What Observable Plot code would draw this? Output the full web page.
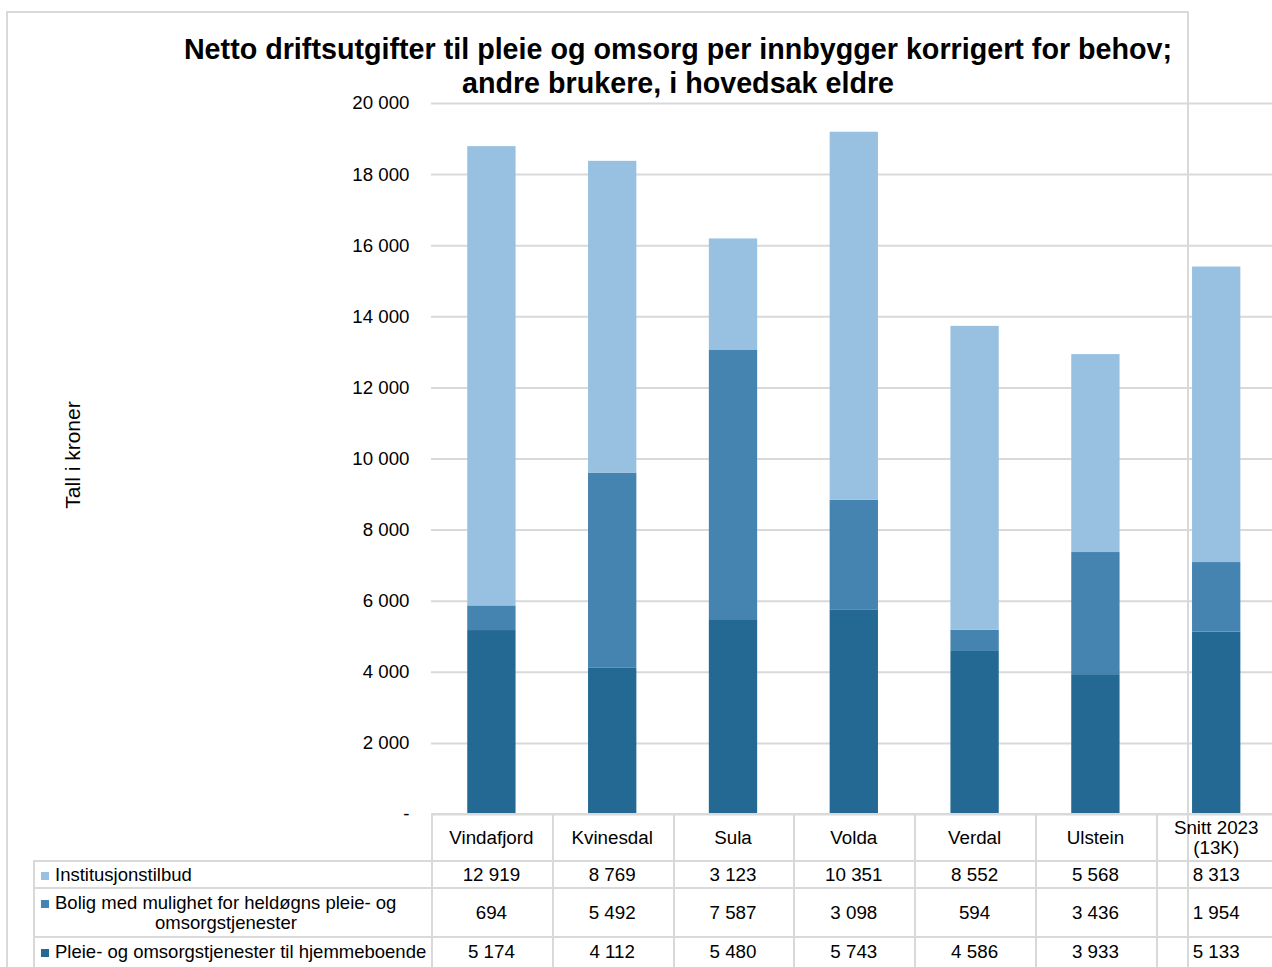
<!DOCTYPE html>
<html><head><meta charset="utf-8">
<script src="https://cdn.jsdelivr.net/npm/d3@7"></script>
<script src="https://cdn.jsdelivr.net/npm/@observablehq/plot@0.6"></script>
<style>
body{margin:0;background:#fff;font-family:"Liberation Sans",Arial,sans-serif;}
#page{position:relative;width:1272px;height:967px;overflow:hidden;background:#fff;}
#page svg{position:absolute;left:0;top:0;}
.hl{position:absolute;height:0;border-top:2px solid #d9d9d9;}
.vl{position:absolute;width:0;border-left:2px solid #d9d9d9;}
.cell{position:absolute;display:flex;align-items:center;justify-content:center;text-align:center;font-size:18.8px;color:#000;line-height:20px;white-space:pre-line;}
.title{position:absolute;left:178px;width:1000px;top:32px;text-align:center;font-weight:bold;font-size:28.7px;line-height:34px;color:#000;}
.ylab{position:absolute;font-size:21px;color:#000;transform:translate(-50%,-50%) rotate(-90deg);white-space:nowrap;}
.key{position:absolute;width:8px;height:8px;}
.lab{position:absolute;font-size:18.5px;color:#000;white-space:nowrap;line-height:20px;}
</style></head><body><div id="page"></div>
<script>
const titleText = "Netto driftsutgifter til pleie og omsorg per innbygger korrigert for behov;\nandre brukere, i hovedsak eldre";
const yLabel = "Tall i kroner";
const categories = ["Vindafjord","Kvinesdal","Sula","Volda","Verdal","Ulstein","Snitt 2023\n(13K)"];
const seriesNames = ["Institusjonstilbud","Bolig med mulighet for heldøgns pleie- og omsorgstjenester","Pleie- og omsorgstjenester til hjemmeboende"];
const institusjonstilbud = [12919, 8769, 3123, 10351, 8552, 5568, 8313];
const bolig = [694, 5492, 7587, 3098, 594, 3436, 1954];
const hjemmeboende = [5174, 4112, 5480, 5743, 4586, 3933, 5133];
const seriesColors = ["#98c1e1","#4583b0","#236994"];
const yTicks = [0,2000,4000,6000,8000,10000,12000,14000,16000,18000,20000];

const locale = d3.formatLocale({decimal:",", thousands:"\u00a0", grouping:[3], currency:["","kr"]});
const fmt = locale.format(",d");
const tickFmt = d => d === 0 ? "-" : fmt(d);

const seriesValues = [institusjonstilbud, bolig, hjemmeboende];
// stack order: bottom first
const rows = [];
[2,1,0].forEach(si => categories.forEach((c,i) => rows.push({cat:c, series:seriesNames[si], value:seriesValues[si][i]})));

const page = document.getElementById("page");

const chart = Plot.plot({
  width:1272, height:830,
  marginLeft:431, marginRight:0, marginTop:103, marginBottom:16,
  style:{fontFamily:"Liberation Sans, Arial, sans-serif", fontSize:"18.7px", color:"#000", background:"transparent"},
  x:{domain:categories, range:[431, 1276.6], round:false, paddingInner:0.6, paddingOuter:0.3, axis:null},
  y:{domain:[0,20000], label:null, axis:null},
  color:{domain:seriesNames, range:seriesColors},
  marks:[
    Plot.gridY(yTicks,{stroke:"#d9d9d9", strokeOpacity:1, strokeWidth:2}),
    Plot.barY(rows,{x:"cat", y:"value", fill:"series"}),
    Plot.axisY(yTicks,{tickSize:0, tickPadding:22, tickFormat:tickFmt, fontSize:18.7, label:null})
  ]
});
page.appendChild(chart);

function add(cls, css, text){
  const d = document.createElement("div");
  d.className = cls;
  Object.assign(d.style, css);
  if (text != null) d.textContent = text;
  page.appendChild(d);
  return d;
}

// frame
add("vl",{left:"6px",top:"12px",height:"960px"});
add("hl",{left:"6px",top:"11px",width:"1183px"});
add("vl",{left:"1187px",top:"12px",height:"960px"});

// title
add("title",{}, null).innerHTML = titleText.split("\n").join("<br>");
// y label
add("ylab",{left:"73px",top:"455px"}, yLabel);

// table
const xs = chart.scale("x");
const step = xs.step;
const colLeft = c => xs.apply(c) + xs.bandwidth/2 - step/2;
const rowTops = [813, 860, 887, 936, 966];
const tableLeft = 33;
// horizontal lines
add("hl",{left:colLeft(categories[0])+"px", top:rowTops[0]+"px", width:"900px"});
for (let r=1;r<4;r++) add("hl",{left:tableLeft+"px", top:rowTops[r]+"px", width:"1300px"});
// vertical lines
categories.forEach(c => add("vl",{left:colLeft(c)+"px", top:rowTops[0]+"px", height:"200px"}));
add("vl",{left:tableLeft+"px", top:rowTops[1]+"px", height:"200px"});

// header cells
categories.forEach(c => add("cell",{left:colLeft(c)+"px", width:step+"px", top:(rowTops[0]+1)+"px", height:(rowTops[1]-rowTops[0])+"px"}, c));
// value rows
[0,1,2].forEach((si, r) => {
  categories.forEach((c,i) => add("cell",{left:colLeft(c)+"px", width:step+"px", top:(rowTops[r+1]+1)+"px", height:(rowTops[r+2]-rowTops[r+1])+"px"}, fmt(seriesValues[si][i])));
});
// legend labels
const rowMid = r => (rowTops[r+1] + rowTops[r+2]) / 2 + 1;
add("key",{left:"41px", top:(rowMid(0)-3)+"px", background:seriesColors[0]});
add("lab",{left:"55px", top:(rowMid(0)-10)+"px"}, seriesNames[0]);
add("key",{left:"41px", top:(rowMid(1)-13)+"px", background:seriesColors[1]});
add("lab",{left:"55px", top:(rowMid(1)-20)+"px"}, "Bolig med mulighet for heldøgns pleie- og");
add("lab",{left:"34px", width:"384px", textAlign:"center", top:(rowMid(1)+0)+"px"}, "omsorgstjenester");
add("key",{left:"41px", top:(rowMid(2)-3)+"px", background:seriesColors[2]});
add("lab",{left:"55px", top:(rowMid(2)-10)+"px"}, seriesNames[2]);
</script>
</body></html>
